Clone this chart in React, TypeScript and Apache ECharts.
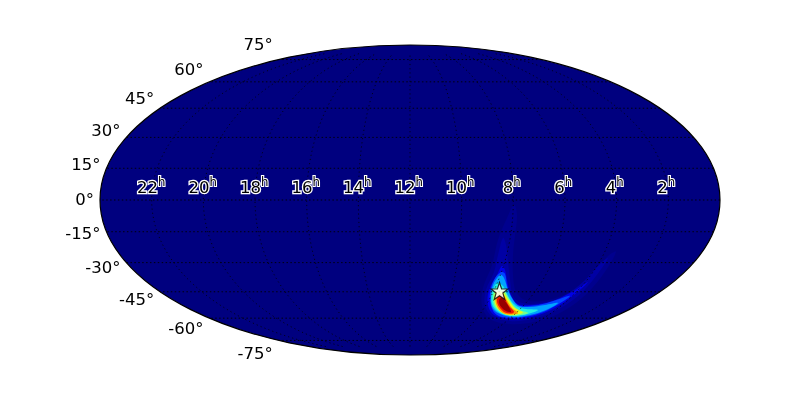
import React, { useEffect, useRef } from "react";
import * as echarts from "echarts";

const HALF_W = 310;
const HALF_H = 155;
const FONT = "DejaVu Sans";

const hourLabels = [22, 20, 18, 16, 14, 12, 10, 8, 6, 4, 2];
const latTicks = [75, 60, 45, 30, 15, 0, -15, -30, -45, -60, -75];
const hourLabelDec = 6;
const starPoint = [89.5, -91];

// Iso-probability outlines, in projected units.
const levelColors = ["#00008e", "#0000a4", "#0000e4", "#0044ff", "#00a4ff", "#20f0e0", "#78ff88", "#e4ff18", "#ff9400", "#f01400", "#960000"];
const levelA = [[104,-5],[97,-18],[88,-40],[82,-65],[73,-88],[72,-106],[80,-119],[100,-124],[124,-122],[148,-114],[172,-98],[192,-76],[206,-52],[198,-56],[180,-78],[156,-94],[132,-101],[115,-100],[106,-92],[103,-75],[103,-55],[105,-35],[107,-15]];
const level0 = [[93,-38],[88,-55],[84,-72],[76,-90],[75,-105],[82,-116],[100,-121],[122,-119],[145,-111],[168,-96],[186,-76],[198,-58],[190,-64],[173,-82],[152,-97],[130,-103],[112,-103],[103,-96],[100,-80],[98,-62],[96,-45]];
const level1 = [[92,-66],[87,-75],[79,-90],[78,-105],[84,-115],[100,-119],[122,-117],[145,-108],[164,-95],[178,-82],[162,-92],[140,-102],[120,-105],[108,-104],[101,-95],[97,-80],[95,-70]];
const level2 = [[91,-72],[84,-80],[80,-93],[81,-106],[87,-115],[101,-118],[120,-116],[138,-110],[160,-96],[137,-103],[120,-106],[108,-105],[101,-96],[97,-85],[95,-74]];
const level3 = [[90,-75],[83,-85],[81,-96],[82,-107],[88,-113],[102,-117],[120,-115],[136,-110],[148,-103],[135,-105],[120,-107],[109,-106],[103,-100],[98,-90],[94,-78]];
const level4 = [[87,-83],[82,-93],[82,-104],[87,-111],[95,-115],[106,-116],[118,-114],[128,-110],[116,-109],[108,-107],[102,-102],[97,-94],[93,-86]];
const level5 = [[86,-88],[83,-96],[84,-105],[89,-111],[97,-115],[107,-115.5],[118,-113],[108,-109.5],[103,-105],[98,-97],[94,-90]];
const level6 = [[86,-92],[84.5,-99],[86,-106],[91,-112],[98,-115],[107,-114.5],[113,-112.5],[105,-108],[100,-102],[96,-96],[93,-92]];
const level7 = [[87,-95],[85.5,-101],[88,-108],[93,-113],[100,-114.5],[108,-113],[102,-108],[98,-102],[95,-97],[92,-94]];
const level8 = [[88,-97],[87,-102],[90,-108],[95,-112.5],[102,-113.5],[104,-111.5],[99,-106],[95,-99],[92,-96]];
const level9 = [[89.5,-99],[89,-103],[92,-108],[96,-111],[101,-112],[99,-107],[95,-101],[92,-98]];
const levels = [levelA, level0, level1, level2, level3, level4, level5, level6, level7, level8, level9];

function mollTheta(latDeg: number) {
  const phi = (latDeg * Math.PI) / 180;
  let t = phi;
  for (let i = 0; i < 60; i++) {
    const d = (2 * t + Math.sin(2 * t) - Math.PI * Math.sin(phi)) / (2 + 2 * Math.cos(2 * t) + 1e-9);
    t -= d;
  }
  return t;
}
function project(hour: number, latDeg: number) {
  const t = mollTheta(latDeg);
  return [HALF_W * ((12 - hour) / 12) * Math.cos(t), HALF_H * Math.sin(t)];
}

const STAR =
  "path://M0,-10 L2.35,-3.24 L9.51,-3.09 L3.8,1.24 L5.88,8.09 L0,4 L-5.88,8.09 L-3.8,1.24 L-9.51,-3.09 L-2.35,-3.24 Z";

const custom = (data: any[], renderItem: any, z: number) => ({
  type: "custom",
  coordinateSystem: "cartesian2d",
  silent: true,
  clip: false,
  z,
  data,
  renderItem,
});

export default function App() {
  const ref = useRef<HTMLDivElement>(null);
  useEffect(() => {
    const chart = echarts.init(ref.current!, undefined, { renderer: "svg" });

    const rows = (n: number) => Array.from({ length: n }, (_, i) => [i, 0]);

    const parallels = latTicks.map((lat) => {
      const pts: number[][] = [];
      for (let h = 0; h <= 24; h += 0.25) pts.push(project(h, lat));
      return pts;
    });
    const meridians = hourLabels.map((h) => {
      const pts: number[][] = [];
      for (let lat = -80; lat <= 80; lat += 2) pts.push(project(h, lat));
      return pts;
    });

    chart.setOption({
      animation: false,
      backgroundColor: "#ffffff",
      grid: { left: 100, top: 45, width: 620, height: 310 },
      xAxis: { type: "value", min: -HALF_W, max: HALF_W, show: false },
      yAxis: { type: "value", min: -HALF_H, max: HALF_H, show: false },
      series: [
        custom(rows(1), (_: any, api: any) => {
          const c = api.coord([0, 0]);
          const s = api.size([HALF_W, HALF_H]);
          return { type: "ellipse", shape: { cx: c[0], cy: c[1], rx: s[0], ry: s[1] }, style: { fill: "#00007f" } };
        }, 1),
        custom(rows(levels.length), (p: any, api: any) => ({
          type: "polygon",
          shape: { points: levels[p.dataIndex].map((q) => api.coord(q)), smooth: 0.35 },
          style: { fill: levelColors[p.dataIndex] },
        }), 2),
        custom(rows(parallels.length), (p: any, api: any) => ({
          type: "polyline",
          shape: { points: parallels[p.dataIndex].map((q) => api.coord(q)) },
          style: { fill: "none", stroke: "#000000", lineWidth: 1, lineDash: [1.5, 2.4], opacity: 0.9 },
        }), 3),
        custom(rows(meridians.length), (p: any, api: any) => ({
          type: "polyline",
          shape: { points: meridians[p.dataIndex].map((q) => api.coord(q)) },
          style: { fill: "none", stroke: "#000000", lineWidth: 0.9, lineDash: [1.2, 3], opacity: 0.85 },
        }), 3),
        custom(rows(1), (_: any, api: any) => {
          const c = api.coord([0, 0]);
          const s = api.size([HALF_W, HALF_H]);
          return { type: "ellipse", shape: { cx: c[0], cy: c[1], rx: s[0], ry: s[1] }, style: { fill: "none", stroke: "#000000", lineWidth: 1.2 } };
        }, 4),
        {
          type: "scatter",
          z: 5,
          silent: true,
          symbol: STAR,
          symbolSize: 17,
          itemStyle: { color: "#ffffff", borderColor: "#000000", borderWidth: 1.2 },
          data: [starPoint],
        },
        custom(rows(hourLabels.length), (p: any, api: any) => {
          const c = api.coord(project(hourLabels[p.dataIndex], hourLabelDec));
          const label = String(hourLabels[p.dataIndex]);
          const digitW = label.length * 10.5;
          const right = c[0] - 1 + (digitW + 8) / 2 - 8;
          return {
            type: "group",
            children: [
              {
                type: "text",
                x: right,
                y: c[1],
                style: {
                  text: label,
                  align: "right",
                  verticalAlign: "middle",
                  fontFamily: FONT,
                  fontSize: 16.5,
                  fill: "#000000",
                  stroke: "#ffffff",
                  lineWidth: 2.6,
                },
              },
              {
                type: "text",
                x: right,
                y: c[1] - 5,
                style: {
                  text: "h",
                  align: "left",
                  verticalAlign: "middle",
                  fontFamily: FONT,
                  fontSize: 11.7,
                  fill: "#000000",
                  stroke: "#ffffff",
                  lineWidth: 2.2,
                },
              },
            ],
          };
        }, 6),
        custom(rows(latTicks.length), (p: any, api: any) => {
          const lat = latTicks[p.dataIndex];
          const edge = project(0, lat);
          const c = api.coord([edge[0], edge[1] * 1.1 + 1]);
          const e = api.coord(edge);
          return {
            type: "text",
            x: 2 * api.coord([0, 0])[0] - e[0] - 6,
            y: c[1],
            style: {
              text: `${lat}°`,
              align: "right",
              verticalAlign: "middle",
              fontFamily: FONT,
              fontSize: 16.5,
              fill: "#000000",
            },
          };
        }, 6),
      ],
    });
    return () => chart.dispose();
  }, []);
  return <div ref={ref} style={{ position: "fixed", left: 0, top: 0, width: 800, height: 400, willChange: "transform" }} />;
}
